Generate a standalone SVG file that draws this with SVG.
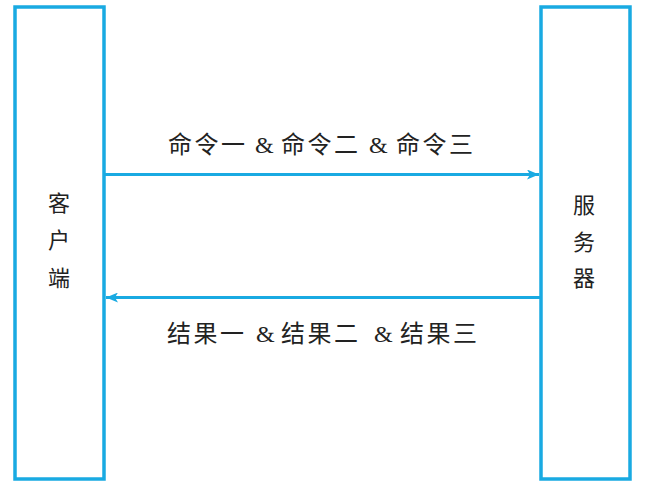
<svg xmlns="http://www.w3.org/2000/svg" width="646" height="492" viewBox="0 0 646 492">
<style>
.box{fill:none;stroke:#19aae2;stroke-width:3.5}
.conn{fill:none;stroke:#19aae2;stroke-width:3}
.t{font-family:"Noto Sans CJK SC","Liberation Serif",serif;font-size:22px;fill:#222}
.lbl{font-family:"Noto Sans CJK SC","Liberation Serif",serif;font-size:24px;fill:#222;letter-spacing:2.5px}
.amp{font-family:"Liberation Serif",serif;font-size:24px;letter-spacing:0}
</style>
<defs>
<marker id="ah" markerUnits="userSpaceOnUse" markerWidth="12" markerHeight="10" refX="12" refY="5" orient="auto">
<path d="M0,0 L12,5 L0,10 L3,5 Z" fill="#19aae2"/>
</marker>
</defs>
<rect width="646" height="492" fill="#fff"/>
<g id="client">
<rect class="box" x="15" y="7" width="89" height="472"/>
<text class="t" text-anchor="middle" x="59" y="211">客</text>
<text class="t" text-anchor="middle" x="59" y="248">户</text>
<text class="t" text-anchor="middle" x="59" y="286">端</text>
</g>
<g id="server">
<rect class="box" x="541" y="7" width="89" height="472"/>
<text class="t" text-anchor="middle" x="584" y="213">服</text>
<text class="t" text-anchor="middle" x="584" y="250">务</text>
<text class="t" text-anchor="middle" x="584" y="286">器</text>
</g>
<g id="connectors">
<line class="conn" x1="104" y1="174.5" x2="539" y2="174.5" marker-end="url(#ah)"/>
<line class="conn" x1="541" y1="297.5" x2="106" y2="297.5" marker-end="url(#ah)"/>
<text class="lbl" y="153"><tspan x="168">命令一</tspan> <tspan class="amp" x="255">&amp;</tspan> <tspan x="281">命令二</tspan> <tspan class="amp" x="369">&amp;</tspan> <tspan x="396">命令三</tspan></text>
<text class="lbl" y="342"><tspan x="167">结果一</tspan> <tspan class="amp" x="256">&amp;</tspan> <tspan x="281">结果二</tspan> <tspan class="amp" x="374">&amp;</tspan> <tspan x="400">结果三</tspan></text>
</g>
</svg>
